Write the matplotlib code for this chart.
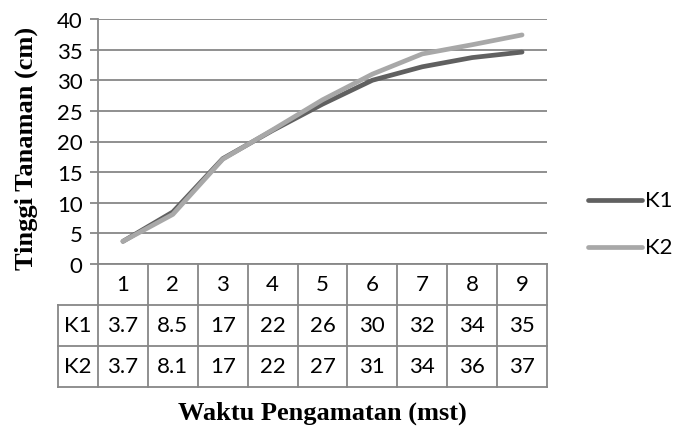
import matplotlib
matplotlib.use("Agg")
import matplotlib.pyplot as plt
from matplotlib.lines import Line2D

# Plant height over observation weeks
weeks = [1, 2, 3, 4, 5, 6, 7, 8, 9]
k1 = [3.7, 8.5, 17.2, 21.8, 26.1, 30.0, 32.2, 33.7, 34.6]
k2 = [3.7, 8.1, 17.1, 21.9, 26.8, 31.0, 34.3, 35.8, 37.4]
series_names = ["K1", "K2"]
y_ticks = [0, 5, 10, 15, 20, 25, 30, 35, 40]

c_k1 = "#606060"
c_k2 = "#a8a8a8"
c_grid = "#878787"
sans = "Lato"
serif = "Liberation Serif"
fs = 16

W, H = 675, 439
fig = plt.figure(figsize=(W / 100, H / 100), dpi=100)

def fx(px):
    return px / W

def fy(py):
    return 1 - py / H

left, right, top, bottom = 98, 547, 20, 265
ax = fig.add_axes([fx(left), fy(bottom), fx(right) - fx(left), fy(top) - fy(bottom)])
ax.set_xlim(0.5, 9.5)
ax.set_ylim(0, 40)
ax.set_yticks(y_ticks)
ax.set_xticks([])
ax.grid(axis="y", color=c_grid, lw=1.3)
ax.set_axisbelow(True)
for s in ["top", "right", "bottom"]:
    ax.spines[s].set_visible(False)
ax.spines["left"].set_color(c_grid)
ax.spines["left"].set_linewidth(1.3)
ax.tick_params(axis="y", length=6, width=1.3, color=c_grid, pad=5,
               labelsize=fs, labelfontfamily=sans)

lw = 3.4
ax.plot(weeks, k1, color=c_k1, lw=lw, solid_capstyle="round", zorder=3)
ax.plot(weeks, k2, color=c_k2, lw=lw, solid_capstyle="round", zorder=4)

# Data table under the plot
tab_left = 58
tab_bottom = 388
tab = fig.add_axes([fx(tab_left), fy(tab_bottom), fx(right) - fx(tab_left), fy(bottom) - fy(tab_bottom)])
hdr = -0.3
tab.set_xlim(hdr, 9.5)
tab.set_ylim(3, 0)
tab.axis("off")

def line(xs, ys):
    tab.add_line(Line2D(xs, ys, color=c_grid, lw=1.3, clip_on=False))

line([0.5, 9.5], [0, 0])
for r in [1, 2, 3]:
    line([hdr, 9.5], [r, r])
for i in range(10):
    line([0.5 + i, 0.5 + i], [0, 3])
line([hdr, hdr], [1, 3])

def fmt(v):
    return f"{v:.1f}" if v < 10 else f"{round(v):d}"

for i, w in enumerate(weeks):
    tab.text(w, 0.5, str(w), ha="center", va="center", fontsize=fs, family=sans)
for r, (name, vals) in enumerate(zip(series_names, [k1, k2]), start=1):
    tab.text((hdr + 0.5) / 2, r + 0.5, name, ha="center", va="center", fontsize=fs, family=sans)
    for w, v in zip(weeks, vals):
        tab.text(w, r + 0.5, fmt(v), ha="center", va="center", fontsize=fs, family=sans)

# Legend
for name, col, py in [("K1", c_k1, 201), ("K2", c_k2, 248)]:
    fig.add_artist(Line2D([fx(588), fx(642)], [fy(py), fy(py)], color=col, lw=lw,
                          solid_capstyle="round", transform=fig.transFigure))
    fig.text(fx(645), fy(py), name, ha="left", va="center", fontsize=fs, family=sans)

# Axis titles
fig.text(fx(26), fy(148), "Tinggi Tanaman (cm)", rotation=90, ha="center", va="center",
         fontsize=19, fontweight="bold", family=serif)
fig.text(fx(322), fy(413), "Waktu Pengamatan (mst)", ha="center", va="center",
         fontsize=19, fontweight="bold", family=serif)

fig.savefig("out.png", dpi=100)
